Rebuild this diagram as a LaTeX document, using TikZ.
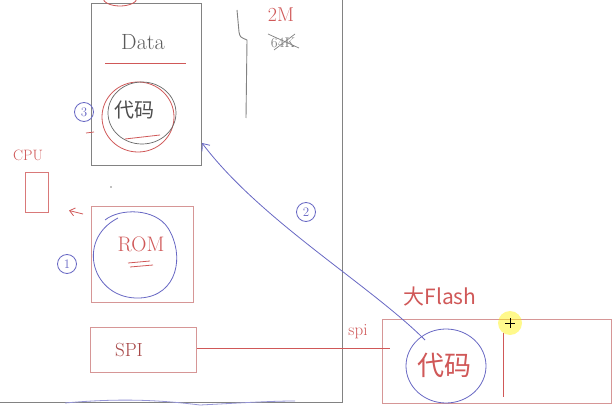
\documentclass[tikz,border=0pt]{standalone}
\usepackage{fontspec}
\newfontfamily\cjk{Noto Sans CJK SC}
\usetikzlibrary{arrows.meta,calc}
\definecolor{pen}{RGB}{208,88,88}
\definecolor{boxred}{RGB}{214,150,150}
\definecolor{pblue}{RGB}{104,104,196}
\definecolor{pgray}{RGB}{130,130,130}
\begin{document}
\begin{tikzpicture}[x=1pt,y=-1pt,
    graybox/.style={draw=pgray,line width=1pt,anchor=north west,inner sep=0pt},
    redbox/.style={draw=boxred,line width=1pt,anchor=north west,inner sep=0pt},
    redtxt/.style={text=pen,font=#1},
    num/.style={draw=pblue,text=pblue,circle,line width=0.8pt,inner sep=1pt,minimum size=19pt,font=\fontsize{13}{13}\selectfont}]
    \useasboundingbox[fill=white] (0,0) rectangle (613,406);
    \draw[pgray,line width=1pt] (342,0) -- (342,402) -- (0,402);
    \draw[pblue!70,line width=0.8pt] (65,403) .. controls (120,398) and (160,400) .. (200,405) .. controls (240,403) and (270,401) .. (295,401);
    \node[graybox,minimum width=110pt,minimum height=162pt] (data) at (91,3) {};
    \node[text=pgray!70!black,font=\fontsize{22}{22}\selectfont] (datatxt) at (143,42) {Data};
    \draw[pen,line width=0.9pt] (105,63) -- (186,63);
    \draw[pen,line width=0.8pt] (120,-2) ellipse (17pt and 8pt);
    \node[text=pgray!60!black,font=\cjk\fontsize{20}{20}\selectfont] (code1) at (134,110) {代码};
    \draw[pen,line width=0.8pt] (138,117) ellipse (36pt and 35pt);
    \draw[pgray!80!black,line width=0.7pt] (142,113) ellipse (34pt and 31pt);
    \draw[pen,line width=0.8pt] (125,139) -- (160,135);
    \draw[pen,line width=0.8pt] (86,133) -- (94,132);
    \node[num] (n3) at (84,112) {3};
    \draw[pgray,line width=0.9pt] (237,10) -- (239,32) .. controls (240,37) .. (247,40) -- (246,118);
    \node[text=pen,font=\fontsize{20}{20}\selectfont] (twom) at (281,15) {2M};
    \node[text=pgray,font=\fontsize{14}{14}\selectfont] (sixtyfour) at (283,43) {64K};
    \draw[pgray,line width=0.7pt] (268,34) -- (299,48);
    \draw[pgray,line width=0.7pt] (274,50) -- (295,34);
    \node[text=pen,font=\fontsize{15}{15}\selectfont] (cputxt) at (28,155) {CPU};
    \node[redbox,draw=pen!80,minimum width=23pt,minimum height=40pt] (cpu) at (25,172) {};
    \fill[pgray] (111,187) circle (0.8pt);
    \node[redbox,minimum width=102pt,minimum height=96pt] (rom) at (91,206) {};
    \coordinate (romout) at (83,214);
    \draw[pen,line width=0.8pt,-{Straight Barb[length=5pt,width=8pt]}] (romout) -- ($(cpu.east)+(20,18)$);
    \draw[pblue,line width=0.8pt] (118,218) .. controls (75,240) and (92,300) .. (140,298) .. controls (178,296) and (185,255) .. (168,228) .. controls (155,208) and (120,208) .. (105,220);
    \node[text=pen,font=\fontsize{21}{21}\selectfont] (romtxt) at (141,244) {ROM};
    \draw[pen,line width=0.8pt] (128,263) -- (150,261);
    \draw[pen,line width=0.8pt] (130,267) -- (153,265);
    \node[num] (n1) at (67,264) {1};
    \node[redbox,minimum width=106pt,minimum height=45pt] (spi) at (90,327) {};
    \node[text=pen!80!black,font=\fontsize{19}{19}\selectfont] (spitxt) at (129,350) {SPI};
    \node[redbox,minimum width=229pt,minimum height=84pt] (flash) at (382,319) {};
    \node[redtxt={\cjk\fontsize{21}{21}\selectfont}] (flashtxt) at (440,297) {大Flash};
    \node[redtxt={\fontsize{17}{17}\selectfont}] (spilabel) at (358,332) {spi};
    \coordinate (spiend) at (390,348);
    \draw[pen,line width=0.8pt] (spi.east |- spiend) -- (spiend);
    \draw[pen,line width=0.8pt] (503,333) -- (503,397);
    \node[redtxt={\cjk\fontsize{27}{27}\selectfont}] (code2) at (444,365) {代码};
    \draw[pblue,line width=0.8pt] (446,366) ellipse (40pt and 37pt);
    \coordinate (curvestart) at (425,340);
    \draw[pblue,line width=0.8pt,-{Straight Barb[length=6pt,width=10pt]}] (curvestart) .. controls (370,285) and (260,220) .. (data.east |- 0,143);
    \node[num] (n2) at (306,212) {2};
    \fill[yellow,opacity=0.45] (510,323) circle (12pt);
    \draw[black,line width=0.5pt] (505,323) -- (515,323) (510,318) -- (510,328);
\end{tikzpicture}
\end{document}
